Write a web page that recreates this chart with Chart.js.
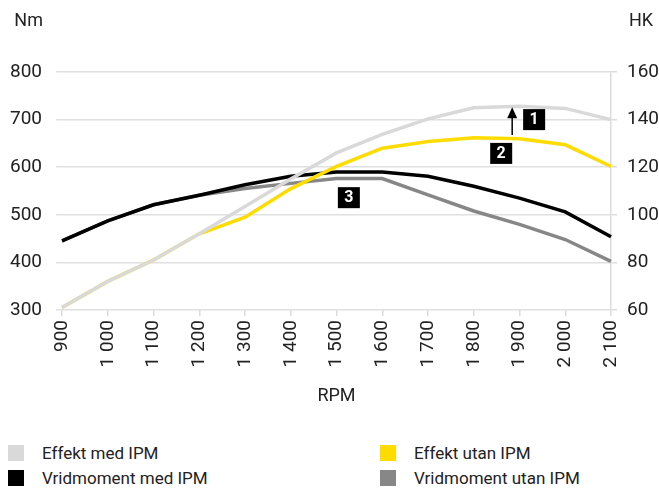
<!DOCTYPE html>
<html>
<head>
<meta charset="utf-8">
<script src="https://cdn.jsdelivr.net/npm/chart.js@4"></script>
<style>
  body { margin: 0; background: #fff; font-family: Roboto, sans-serif; color: #222; }
  #wrap { position: relative; width: 659px; height: 489px; overflow: hidden; }
  #canvasBox { position: absolute; left: 0; top: 0; width: 659px; height: 430px; }
  .legend { position: absolute; left: 0; top: 441px; width: 659px; font-size: 17px; }
  .item { position: absolute; display: flex; align-items: center; height: 24px; }
  .item span.box { width: 16px; height: 16px; margin-right: 18px; }
</style>
</head>
<body>
<div id="wrap">
  <div id="canvasBox"><canvas id="grafico"></canvas></div>
  <div class="legend" id="legenda"></div>
</div>
<script>
// data
const varvtal = ["900", "1 000", "1 100", "1 200", "1 300", "1 400", "1 500", "1 600", "1 700", "1 800", "1 900", "2 000", "2 100"];
const effektMedIPM = [61, 72, 81, 92, 103.5, 115, 126, 133.8, 140.3, 145, 145.6, 144.7, 140];
const effektUtanIPM = [61, 72, 81, 92, 99, 111, 120.3, 128, 130.8, 132.4, 131.9, 129.4, 120.3];
const vridMedIPM = [445, 487, 521, 541, 563, 581, 590, 590, 581, 560, 535, 506, 454];
const vridUtanIPM = [445, 487, 521, 541, 555, 566, 576, 576, 542, 508, 480, 448, 402];
const nmTicks = [300, 400, 500, 600, 700, 800];
const hkTicks = [60, 80, 100, 120, 140, 160];

const markeringar = [
  { text: "1", rpm: 1932, nm: 701 },
  { text: "2", rpm: 1860, nm: 630 },
  { text: "3", rpm: 1527, nm: 537 }
];
const pil = { rpm: 1884, fran: 133.5, till: 145.2 };

const typsnitt = 'Roboto, sans-serif';

const serier = [
  { label: "Effekt med IPM", data: effektMedIPM, color: "#d9d9d9", axis: "y2" },
  { label: "Effekt utan IPM", data: effektUtanIPM, color: "#ffdc00", axis: "y2" },
  { label: "Vridmoment med IPM", data: vridMedIPM, color: "#000000", axis: "y" },
  { label: "Vridmoment utan IPM", data: vridUtanIPM, color: "#878787", axis: "y" }
];

// enheter och annotationer
const extraRitning = {
  id: "extraRitning",
  afterDatasetsDraw(chart) {
    const ctx = chart.ctx;
    const x = chart.scales.x, y = chart.scales.y, y2 = chart.scales.y2;
    const idx = rpm => (rpm - 900) / 100;

    ctx.save();
    // pil
    const px = x.getPixelForValue(idx(pil.rpm));
    const yb = y2.getPixelForValue(pil.fran);
    const yt = y2.getPixelForValue(pil.till);
    ctx.strokeStyle = "#000";
    ctx.lineWidth = 1.5;
    ctx.beginPath();
    ctx.moveTo(px, yb);
    ctx.lineTo(px, yt + 8);
    ctx.stroke();
    ctx.fillStyle = "#000";
    ctx.beginPath();
    ctx.moveTo(px, yt);
    ctx.lineTo(px - 5, yt + 11);
    ctx.lineTo(px + 5, yt + 11);
    ctx.closePath();
    ctx.fill();

    // nummerrutor
    ctx.font = "bold 16px " + typsnitt;
    ctx.textAlign = "center";
    ctx.textBaseline = "middle";
    markeringar.forEach(m => {
      const cx = x.getPixelForValue(idx(m.rpm));
      const cy = y.getPixelForValue(m.nm);
      ctx.fillStyle = "#000";
      ctx.fillRect(cx - 11, cy - 10, 22, 21);
      ctx.fillStyle = "#fff";
      ctx.fillText(m.text, cx, cy + 1);
    });

    // enheter
    ctx.fillStyle = "#222";
    ctx.font = "18px " + typsnitt;
    ctx.textAlign = "right";
    ctx.fillText("Nm", 43, 21);
    ctx.textAlign = "left";
    ctx.fillText("HK", 629, 21);
    ctx.restore();
  }
};

function byggLegend() {
  const pos = [[8, 0], [380, 0], [8, 25], [380, 25]];
  const el = document.getElementById("legenda");
  serier.forEach((s, i) => {
    const d = document.createElement("div");
    d.className = "item";
    d.style.left = pos[i][0] + "px";
    d.style.top = pos[i][1] + "px";
    d.innerHTML = '<span class="box" style="background:' + s.color + '"></span>' + s.label;
    el.appendChild(d);
  });
}

function inicializar() {
  const ctx = document.getElementById("grafico").getContext("2d");
  new Chart(ctx, {
    type: "line",
    data: {
      labels: varvtal,
      datasets: serier.map(s => ({
        label: s.label,
        data: s.data,
        borderColor: s.color,
        backgroundColor: s.color,
        borderWidth: 3.5,
        pointRadius: 0,
        tension: 0,
        yAxisID: s.axis
      }))
    },
    options: {
      responsive: true,
      maintainAspectRatio: false,
      animation: false,
      layout: { padding: { top: 72, left: 0, right: 0, bottom: 19 } },
      plugins: { legend: { display: false }, tooltip: { enabled: false } },
      scales: {
        x: {
          offset: false,
          grid: { display: true, drawOnChartArea: false, color: "#dcdcdc", tickLength: 6, lineWidth: 1.5 },
          border: { display: false },
          ticks: { color: "#222", font: { family: typsnitt, size: 19 }, maxRotation: 90, minRotation: 90, autoSkip: false, padding: 4 },
          title: { display: true, text: "RPM", color: "#222", font: { family: typsnitt, size: 18 }, padding: { top: 14 } }
        },
        y: {
          position: "left",
          min: 300, max: 800,
          afterBuildTicks: a => { a.ticks = nmTicks.map(v => ({ value: v })); },
          afterFit: a => { a.width = 62; },
          grid: { color: "#e0e0e0", lineWidth: 1.5, tickLength: 6 },
          border: { display: false },
          ticks: { color: "#222", font: { family: typsnitt, size: 19 }, padding: 14 }
        },
        y2: {
          position: "right",
          min: 60, max: 160,
          afterBuildTicks: a => { a.ticks = hkTicks.map(v => ({ value: v })); },
          afterFit: a => { a.width = 48; },
          grid: { drawOnChartArea: false, color: "#dcdcdc", lineWidth: 1.5, tickLength: 6 },
          border: { display: true, color: "#dcdcdc", width: 1.5 },
          ticks: { color: "#222", font: { family: typsnitt, size: 19 }, padding: 10 }
        }
      }
    },
    plugins: [extraRitning]
  });
  byggLegend();
}

document.addEventListener("DOMContentLoaded", inicializar);
</script>
</body>
</html>
